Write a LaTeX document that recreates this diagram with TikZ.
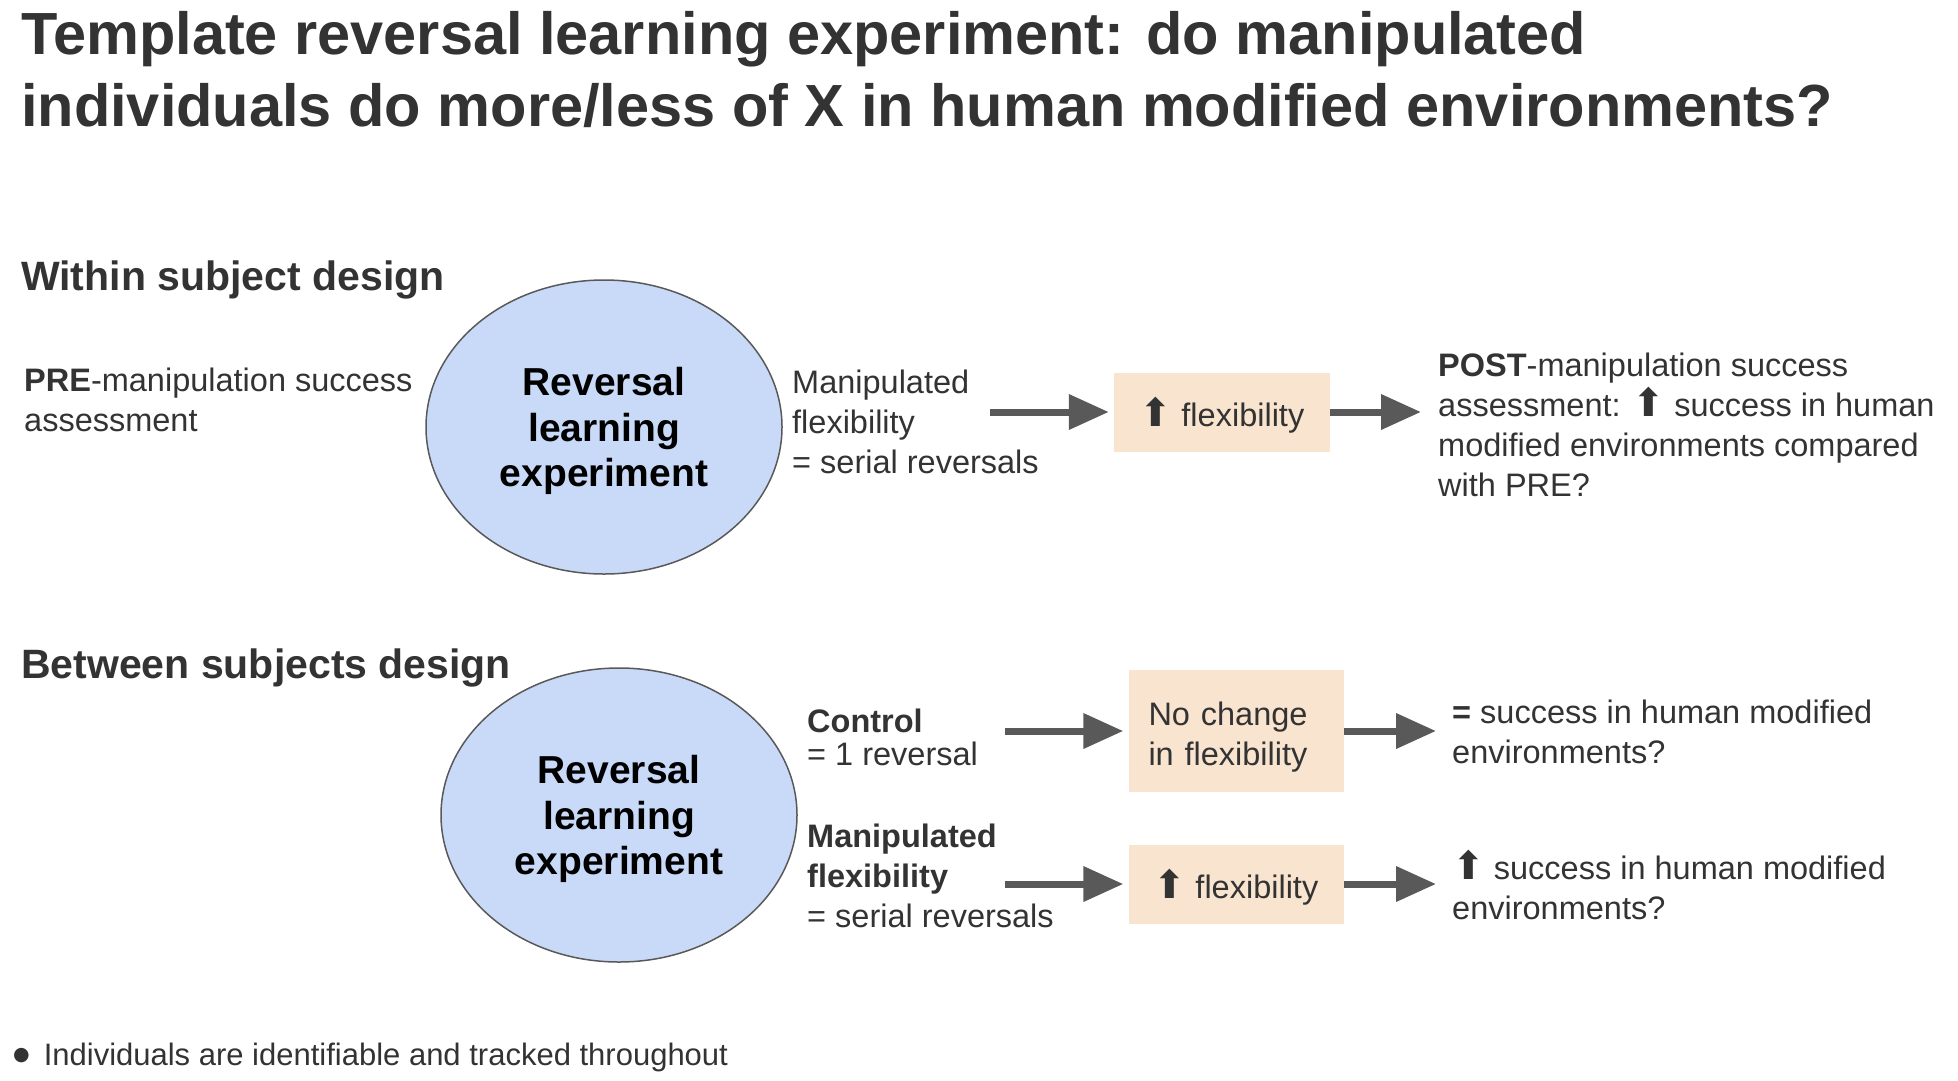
\documentclass[tikz,border=0pt]{standalone}
\usepackage{fontspec}
\setmainfont{Liberation Sans}
\newfontfamily\symfont{DejaVu Sans}
\usetikzlibrary{positioning,arrows.meta,shapes.geometric}
\definecolor{txtgray}{HTML}{333333}
\definecolor{arrgray}{HTML}{595959}
\definecolor{blobblue}{HTML}{C9DAF8}
\definecolor{boxpeach}{HTML}{F8E4CF}
\newcommand{\uparrowsym}{{\symfont\fontsize{39}{39}\selectfont ⬆}}

\begin{document}
\begin{tikzpicture}[x=1pt, y=-1pt, >=Stealth,
    txt/.style={font=\fontsize{32.5}{40}\selectfont, text=txtgray, align=left, inner sep=0pt, anchor=base west},
    head/.style={font=\fontsize{41}{48}\selectfont\bfseries, text=txtgray, inner sep=0pt, anchor=base west},
    blob/.style={ellipse, draw=arrgray, line width=1.5pt, fill=blobblue, minimum width=356pt, minimum height=294pt, inner sep=0pt, text depth=-5pt, font=\fontsize{39}{45.6}\selectfont\bfseries, align=center},
    box/.style={rectangle, fill=boxpeach, font=\fontsize{32.5}{40}\selectfont, text=txtgray, minimum width=216pt, minimum height=79pt, inner sep=0pt, text depth=-3pt},
    arr/.style={-{Triangle[length=40pt, width=34pt]}, line width=7pt, draw=arrgray}]

  \useasboundingbox (0,0) rectangle (1958,1080);

  % anchors sit on the last baseline
  \node[anchor=base west, inner sep=0pt, font=\fontsize{59.5}{72}\selectfont\bfseries, text=txtgray, align=left] (title) at (21,126)
    {Template reversal learning experiment: do manipulated\\individuals do more/less of X in human modified environments?};

  % within subject design
  \node[head] (within) at (21,290) {Within subject design};
  \node[txt] (pre) at (24,431) {\textbf{PRE}-manipulation success\\assessment};
  \node[blob] (rle1) at (604,427) {Reversal\\learning\\experiment};
  \node[txt] (manip1) at (792,473) {Manipulated\\flexibility\\= serial reversals};
  \node[box] (flex1) at (1222,412) {\uparrowsym\ flexibility};
  \node[txt] (post) at (1438,496) {\textbf{POST}-manipulation success\\assessment: \uparrowsym\ success in human\\modified environments compared\\with PRE?};

  \coordinate (a1) at (990,412);
  \draw[arr, shorten >=5pt] (a1) -- (a1 -| flex1.west);
  \draw[arr, shorten >=17pt] (flex1.east) -- (flex1.east -| post.west);

  % between subjects design
  \node[head] (between) at (21,678) {Between subjects design};
  \node[blob] (rle2) at (619,815) {Reversal\\learning\\experiment};
  \node[txt, font=\fontsize{32.5}{32.5}\selectfont] (ctrl) at (807,765) {\textbf{Control}\\= 1 reversal};
  \node[txt] (manip2) at (807,927) {\textbf{Manipulated}\\\textbf{flexibility}\\= serial reversals};
  \node[box, text depth={}, align=left, text width=175pt, inner sep=20pt, minimum width=215pt, minimum height=118pt] (nochange) at (1236,731) {\rule{0pt}{35pt}No change\\in flexibility};
  \node[box, minimum width=215pt] (flex2) at (1236,884) {\uparrowsym\ flexibility};
  \node[txt] (succ1) at (1452,763) {\textbf{=} success in human modified\\environments?};
  \node[txt] (succ2) at (1452,919) {\uparrowsym\ success in human modified\\environments?};

  \coordinate (a3) at (1005,731);
  \coordinate (a5) at (1005,884);
  \draw[arr, shorten >=5pt] (a3) -- (a3 -| nochange.west);
  \draw[arr, shorten >=16pt] (nochange.east) -- (nochange.east -| succ1.west);
  \draw[arr, shorten >=5pt] (a5) -- (a5 -| flex2.west);
  \draw[arr, shorten >=16pt] (flex2.east) -- (flex2.east -| succ2.west);

  \node[txt, font=\fontsize{31}{38}\selectfont] (note) at (13,1065) {\raisebox{5pt}{\symfont\fontsize{19}{19}\selectfont ●}\hspace{14pt}Individuals are identifiable and tracked throughout};
\end{tikzpicture}
\end{document}
